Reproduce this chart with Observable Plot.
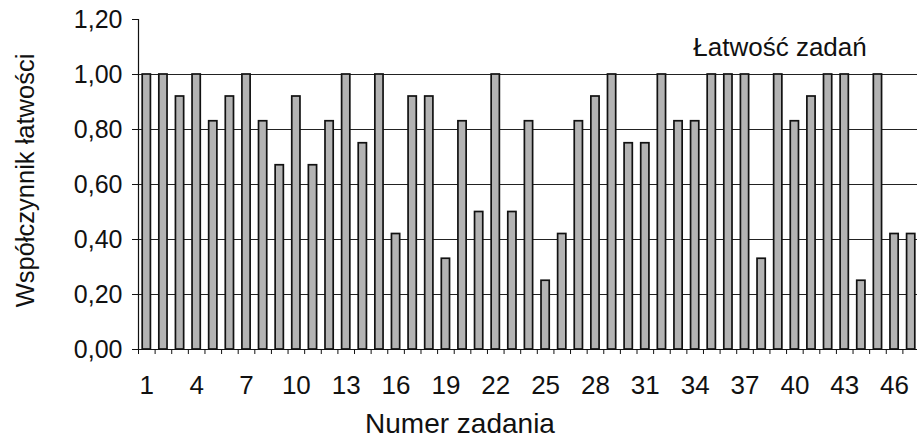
<!DOCTYPE html>
<html>
<head>
<meta charset="utf-8">
<script src="https://cdn.jsdelivr.net/npm/d3@7"></script>
<script src="https://cdn.jsdelivr.net/npm/@observablehq/plot@0.6"></script>
<style>
  html, body { margin: 0; padding: 0; background: #fff; overflow: hidden; }
  #chart svg { display: block; }
</style>
</head>
<body>
<div id="chart"></div>
<script>
// Task numbers (Numer zadania)
const tasks = [1,2,3,4,5,6,7,8,9,10,11,12,13,14,15,16,17,18,19,20,21,22,23,24,
               25,26,27,28,29,30,31,32,33,34,35,36,37,38,39,40,41,42,43,44,45,46,47];
// Easiness coefficient (Współczynnik łatwości) per task
const easiness = [1.00,1.00,0.92,1.00,0.83,0.92,1.00,0.83,0.67,0.92,0.67,0.83,1.00,0.75,1.00,0.42,
                  0.92,0.92,0.33,0.83,0.50,1.00,0.50,0.83,0.25,0.42,0.83,0.92,1.00,0.75,0.75,1.00,
                  0.83,0.83,1.00,1.00,1.00,0.33,1.00,0.83,0.92,1.00,1.00,0.25,1.00,0.42,0.42];
// Axis tick labels
const xTickLabels = [1,4,7,10,13,16,19,22,25,28,31,34,37,40,43,46];
const yTicks = [0,0.2,0.4,0.6,0.8,1.0,1.2];
const gridValues = [0.2,0.4,0.6,0.8,1.0];
const seriesName = "Łatwość zadań";
const xTitle = "Numer zadania";
const yTitle = "Współczynnik łatwości";

const data = tasks.map((n, i) => ({n, v: easiness[i]}));
const xMin = tasks[0] - 0.5, xMax = tasks[tasks.length - 1] + 0.5;
const boundaries = [xMin, ...tasks.map(n => n + 0.5)];
const fmt = d => d.toFixed(2).replace(".", ",");

const chart = Plot.plot({
  width: 917,
  height: 440,
  marginLeft: 138,
  marginRight: 0,
  marginTop: 19,
  marginBottom: 91,
  style: {background: "#fff", color: "#111", fontFamily: "'Liberation Sans', Arial, sans-serif"},
  x: {domain: [xMin, xMax], range: [138, 919]},
  y: {domain: [0, 1.2]},
  marks: [
    Plot.ruleY(gridValues, {x1: xMin, x2: xMax, stroke: "#222", strokeWidth: 1}),
    Plot.rectY(data, {
      x1: d => d.n - 0.5, x2: d => d.n + 0.5, y1: 0, y2: "v",
      insetLeft: 4.2, insetRight: 4.2,
      fill: "#b3b3b3", stroke: "#111", strokeWidth: 1.7
    }),
    Plot.ruleY([0], {x1: xMin, x2: xMax, stroke: "#111", strokeWidth: 1.2}),
    Plot.ruleX([xMin], {y1: 0, y2: 1.2, stroke: "#111", strokeWidth: 1.2}),
    Plot.axisY({ticks: yTicks, tickFormat: fmt, tickSize: 6, tickPadding: 10, fontSize: 25, label: null, stroke: "#111"}),
    Plot.axisX({ticks: boundaries, tickSize: 5, tickFormat: () => "", label: null, stroke: "#111"}),
    Plot.axisX({ticks: xTickLabels, tickSize: 0, tickPadding: 26, fontSize: 26, label: null}),
    Plot.text([seriesName], {text: d => d, frameAnchor: "top", textAnchor: "middle", lineAnchor: "middle", dx: 252, dy: 28, fontSize: 26, fill: "#111"}),
    Plot.text([xTitle], {text: d => d, frameAnchor: "bottom", textAnchor: "middle", lineAnchor: "middle", dx: -68, dy: 75, fontSize: 28, fill: "#111"}),
    Plot.text([yTitle], {text: d => d, frameAnchor: "left", textAnchor: "middle", lineAnchor: "middle", rotate: -90, dx: -113, dy: -4, fontSize: 25.5, fill: "#111"})
  ]
});
document.getElementById("chart").appendChild(chart);
</script>
</body>
</html>
